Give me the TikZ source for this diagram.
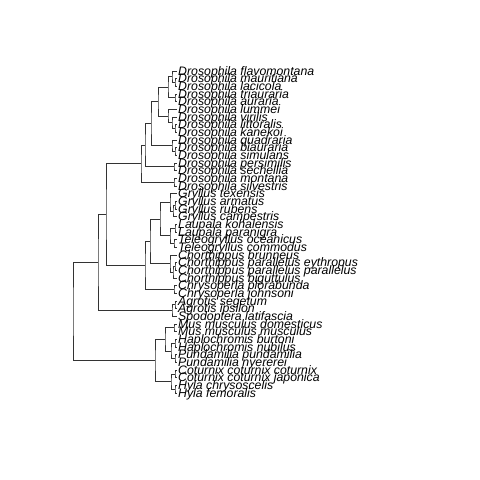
\documentclass[tikz,border=0pt]{standalone}
\usepackage{fontspec}
\setmainfont{Liberation Sans}
\usetikzlibrary{calc}
\newcommand\leaf[2]{\coordinate (t#1) at (177,{71+(#1-1)*7.667});
  \node[lab] (n#1) at ([shift={(1,4.3)}]t#1) {#2};}
\newcommand\clade[4]{\path let \p1=(#3), \p2=(#4) in coordinate (#1) at ({#2pt},{0.5*(\y1+\y2)});
  \draw[edge] (#3) -| (#1) |- (#4);}
\begin{document}
\begin{tikzpicture}[x=1pt,y=-1pt,
  edge/.style={draw=black!80,line width=0.7pt},
  lab/.style={anchor=base west,inner sep=0pt,font=\fontsize{12.3}{12}\selectfont\itshape}]
\useasboundingbox (0,0) rectangle (480,480);
\leaf{1}{Drosophila flavomontana}
\leaf{2}{Drosophila mauritiana}
\leaf{3}{Drosophila lacicola}
\leaf{4}{Drosophila triauraria}
\leaf{5}{Drosophila auraria}
\leaf{6}{Drosophila lummei}
\leaf{7}{Drosophila virilis}
\leaf{8}{Drosophila littoralis}
\leaf{9}{Drosophila kanekoi}
\leaf{10}{Drosophila quadraria}
\leaf{11}{Drosophila biauraria}
\leaf{12}{Drosophila simulans}
\leaf{13}{Drosophila persimilis}
\leaf{14}{Drosophila sechellia}
\leaf{15}{Drosophila montana}
\leaf{16}{Drosophila silvestris}
\leaf{17}{Gryllus texensis}
\leaf{18}{Gryllus armatus}
\leaf{19}{Gryllus rubens}
\leaf{20}{Gryllus campestris}
\leaf{21}{Laupala kohalensis}
\leaf{22}{Laupala paranigra}
\leaf{23}{Teleogryllus oceanicus}
\leaf{24}{Teleogryllus commodus}
\leaf{25}{Chorthippus brunneus}
\leaf{26}{Chorthippus parallelus eythropus}
\leaf{27}{Chorthippus parallelus parallelus}
\leaf{28}{Chorthippus biguttulus}
\leaf{29}{Chrysoperla plorabunda}
\leaf{30}{Chrysoperla johnsoni}
\leaf{31}{Agrotis segetum}
\leaf{32}{Agrotis ipsilon}
\leaf{33}{Spodoptera latifascia}
\leaf{34}{Mus musculus domesticus}
\leaf{35}{Mus musculus musculus}
\leaf{36}{Haplochromis burtoni}
\leaf{37}{Haplochromis nubilus}
\leaf{38}{Pundamilia pundamilia}
\leaf{39}{Pundamilia nyererei}
\leaf{40}{Coturnix coturnix coturnix}
\leaf{41}{Coturnix coturnix japonica}
\leaf{42}{Hyla chrysoscelis}
\leaf{43}{Hyla femoralis}
\clade{c23}{175}{t2}{t3}
\clade{J}{172}{t1}{c23}
\clade{c45}{175}{t4}{t5}
\clade{H}{168}{J}{c45}
\clade{c89}{175}{t8}{t9}
\clade{K}{172}{t7}{c89}
\clade{I}{168}{t6}{K}
\clade{F}{158}{H}{I}
\clade{c1112}{175}{t11}{t12}
\clade{G}{172}{t10}{c1112}
\clade{B}{151}{F}{G}
\clade{c1314}{174}{t13}{t14}
\clade{Atwo}{145}{B}{c1314}
\clade{c1516}{174}{t15}{t16}
\clade{A}{141}{Atwo}{c1516}
\clade{c1819}{175}{t18}{t19}
\clade{Qtwo}{173}{c1819}{t20}
\clade{Q}{170}{t17}{Qtwo}
\clade{c2122}{175}{t21}{t22}
\clade{c2324}{174}{t23}{t24}
\clade{R}{170}{c2122}{c2324}
\clade{O}{160}{Q}{R}
\clade{c2627}{175}{t26}{t27}
\clade{Ptwo}{173}{c2627}{t28}
\clade{P}{170}{t25}{Ptwo}
\clade{N}{150}{O}{P}
\clade{c2930}{174}{t29}{t30}
\clade{M}{145}{N}{c2930}
\clade{V}{106}{A}{M}
\clade{c3132}{175}{t31}{t32}
\clade{AG}{172}{c3132}{t33}
\clade{U}{98}{V}{AG}
\clade{c3435}{174}{t34}{t35}
\clade{c3637}{175}{t36}{t37}
\clade{c3839}{175}{t38}{t39}
\clade{HP}{171}{c3637}{c3839}
\clade{Y}{165}{c3435}{HP}
\clade{c4041}{175}{t40}{t41}
\clade{c4243}{175}{t42}{t43}
\clade{Z}{171}{c4041}{c4243}
\clade{W}{155}{Y}{Z}
\clade{root}{73}{U}{W}
\end{tikzpicture}
\end{document}
